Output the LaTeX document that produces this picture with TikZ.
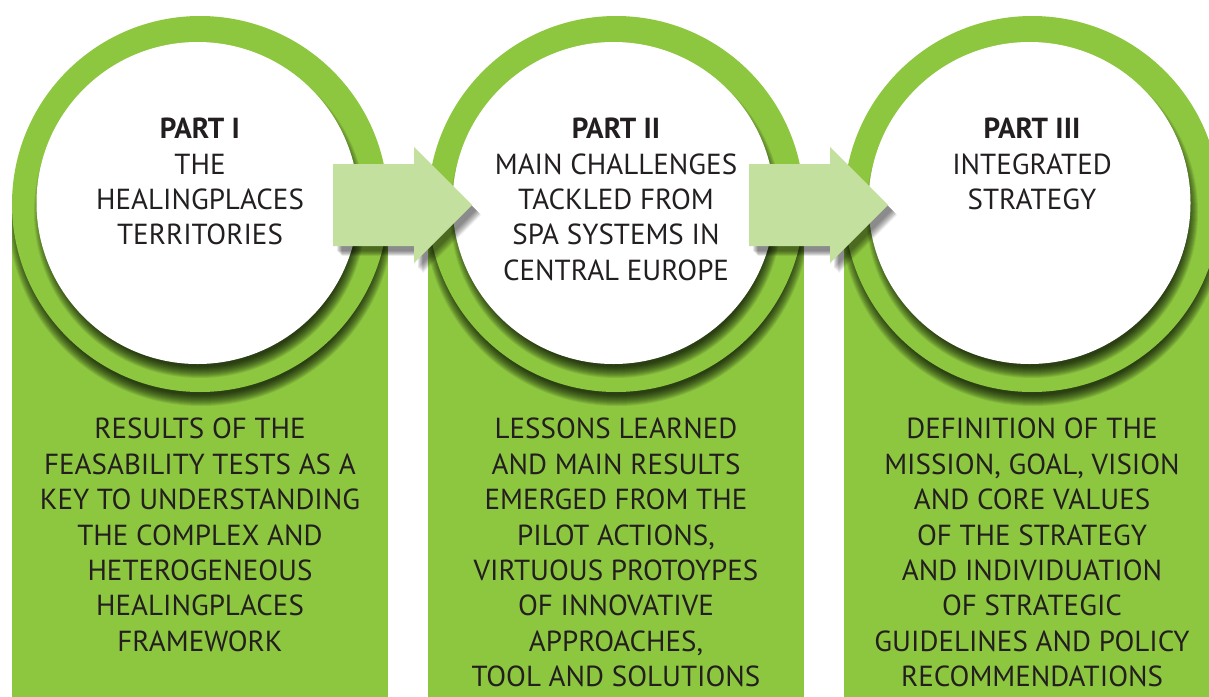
\documentclass[tikz,border=0pt]{standalone}
\usepackage{fontspec}
\setmainfont{PT Sans}
\usetikzlibrary{calc}
\definecolor{hpgreen}{RGB}{141,198,63}
\definecolor{hparrow}{RGB}{196,224,159}
\definecolor{hptext}{RGB}{35,31,32}
\tikzset{
  ring/.style={circle,fill=hpgreen,inner sep=0pt,minimum size=376pt},
  disc/.style={circle,fill=white,inner sep=0pt,minimum size=322pt},
  hptxt/.style={text=hptext,align=center,inner sep=0pt,anchor=north,
    font=\fontsize{29}{35.4}\selectfont},
  blockarrow/.style={fill=hparrow},
}
\newcommand\hpcol[2]{%
  \fill[hpgreen] (#1-188,204) rectangle (#1+188,700);
  \begin{scope}
    \clip (#1-188,204) rectangle (#1+188,700);
    \foreach \k in {0,...,11}{\fill[black,opacity=0.085] (#1+1,213) circle ({193-\k});}
  \end{scope}
  \node[ring] (#2o) at (#1,204) {};
  \begin{scope}
    \clip (#1,204) circle (188);
    \foreach \k in {0,...,11}{\fill[black,opacity=0.085] (#1,212) circle ({166-\k});}
  \end{scope}
  \node[disc] (#2w) at (#1-2.5,203) {};
}
\newcommand\hparrowshape[1]{%
  (#1,164) -- (#1+81,164) -- (#1+81,147) -- (#1+139,205) -- (#1+81,263) -- (#1+81,246) -- (#1,246) -- cycle}
\newcommand\hparrow[2]{%
  \foreach \k in {0,...,7}{\fill[black,opacity=0.07,shift={(4+0.7*\k,5+0.7*\k)}] \hparrowshape{#1};}
  \fill[blockarrow] \hparrowshape{#1};
  \coordinate (#2) at (#1+70,205);
}
\begin{document}
\begin{tikzpicture}[x=1pt,y=-1pt]
\useasboundingbox (0,0) rectangle (1209,696);
\clip (0,0) rectangle (1209,696);
\fill[white] (0,0) rectangle (1209,696);
\hpcol{200}{c1}
\hpcol{616}{c2}
\hparrow{333}{a1}
\hpcol{1032}{c3}
\hparrow{749}{a2}
% circle texts
\node[hptxt] (t1) at (200,118) {\textbf{PART I}\\THE\\HEALINGPLACES\\TERRITORIES};
\node[hptxt] (t2) at (616,118) {\textbf{PART II}\\MAIN CHALLENGES\\TACKLED FROM\\SPA SYSTEMS IN\\CENTRAL EUROPE};
\node[hptxt] (t3) at (1032,118) {\textbf{PART III}\\INTEGRATED\\STRATEGY};
% column texts
\node[hptxt] (b1) at (200,418) {RESULTS OF THE\\FEASABILITY TESTS AS A\\KEY TO UNDERSTANDING\\THE COMPLEX AND\\HETEROGENEOUS\\HEALINGPLACES\\FRAMEWORK};
\node[hptxt] (b2) at (616,418) {LESSONS LEARNED\\AND MAIN RESULTS\\EMERGED FROM THE\\PILOT ACTIONS,\\VIRTUOUS PROTOYPES\\OF INNOVATIVE\\APPROACHES,\\TOOL AND SOLUTIONS};
\node[hptxt] (b3) at (1032,418) {DEFINITION OF THE\\MISSION, GOAL, VISION\\AND CORE VALUES\\OF THE STRATEGY\\AND INDIVIDUATION\\OF STRATEGIC\\GUIDELINES AND POLICY\\RECOMMENDATIONS};
\end{tikzpicture}
\end{document}
